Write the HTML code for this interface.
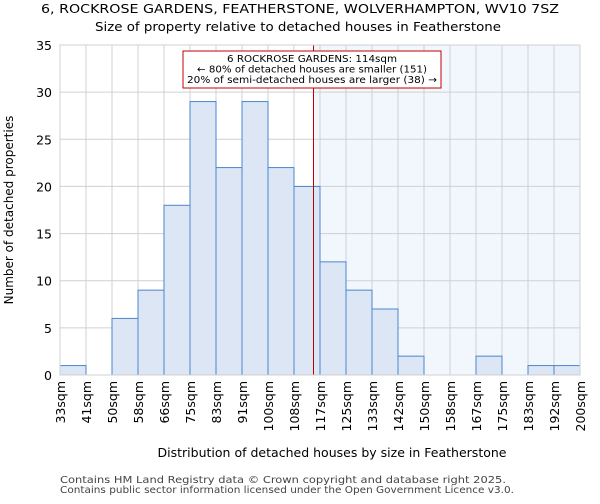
<!DOCTYPE html>
<html><head><meta charset="utf-8"><style>
body{margin:0;background:#fff;font-family:"DejaVu Sans","Liberation Sans",sans-serif;}
</style></head><body>
<svg width="600" height="500" xmlns="http://www.w3.org/2000/svg" font-family="DejaVu Sans, Liberation Sans, sans-serif">
<text x="300" y="13" text-anchor="middle" font-size="12.5" textLength="518" lengthAdjust="spacingAndGlyphs">6, ROCKROSE GARDENS, FEATHERSTONE, WOLVERHAMPTON, WV10 7SZ</text>
<text x="298" y="31" text-anchor="middle" font-size="12.5" textLength="406" lengthAdjust="spacingAndGlyphs">Size of property relative to detached houses in Featherstone</text>
<g id="plot"></g>
<text x="332" y="457" text-anchor="middle" font-size="12.5" textLength="349" lengthAdjust="spacingAndGlyphs">Distribution of detached houses by size in Featherstone</text>
<text transform="translate(13,210) rotate(-90)" text-anchor="middle" font-size="12">Number of detached properties</text>
<text x="60" y="483" font-size="10" fill="#444" textLength="446" lengthAdjust="spacingAndGlyphs">Contains HM Land Registry data © Crown copyright and database right 2025.</text>
<text x="60" y="493" font-size="10" fill="#444" textLength="454" lengthAdjust="spacingAndGlyphs">Contains public sector information licensed under the Open Government Licence v3.0.</text>
</svg>
<script>
const binLabels=["33sqm","41sqm","50sqm","58sqm","66sqm","75sqm","83sqm","91sqm","100sqm","108sqm","117sqm","125sqm","133sqm","142sqm","150sqm","158sqm","167sqm","175sqm","183sqm","192sqm","200sqm"];
const counts=[1,0,6,9,18,29,22,29,22,20,12,9,7,2,0,0,2,0,1,1];
const yTicks=[0,5,10,15,20,25,30,35];
const propertyBinPos=9.75;
const NS="http://www.w3.org/2000/svg";
const g=document.getElementById('plot');
const L=60,R=580,T=45,B=375,yMax=35;
const bw=(R-L)/counts.length;
const x=i=>L+i*bw;
const y=v=>B-(v/yMax)*(B-T);
function mk(t,a){const e=document.createElementNS(NS,t);for(const k in a)e.setAttribute(k,a[k]);g.appendChild(e);return e;}
const lx=x(propertyBinPos);
let e=mk('rect',{x:lx,y:T,width:R-lx,height:B-T,fill:'#f2f6fd'});


yTicks.forEach(v=>{
 let l=mk('line',{x1:L,x2:R,y1:y(v),y2:y(v),stroke:'#d0d0d0'});
 
 
 let t=mk('text',{x:L-8,y:y(v)+5,'text-anchor':'end','font-size':12.5});
 t.textContent=v;
 
 
});
binLabels.forEach((s,i)=>{
 let l=mk('line',{x1:x(i),x2:x(i),y1:T,y2:B,stroke:'#d0d0d0'});
 
 
 let t=mk('text',{transform:`translate(${x(i)+5},${B+6}) rotate(-90)`,'text-anchor':'end','font-size':12.5});
 t.textContent=s;
 
 
});
counts.forEach((v,i)=>{
 if(v<=0)return;
 let r=mk('rect',{x:x(i),y:y(v),width:bw,height:B-y(v),fill:'#dce6f5',stroke:'#4a86cf','stroke-width':1});
 
 
});
e=mk('line',{x1:lx,x2:lx,y1:T,y2:B,stroke:'#c00000','stroke-width':1});


e=mk('rect',{x:183,y:51,width:258,height:37,fill:'#fff',stroke:'#c00000'});


const ann=["6 ROCKROSE GARDENS: 114sqm","← 80% of detached houses are smaller (151)","20% of semi-detached houses are larger (38) →"];
const annW=[170,230,250];
ann.forEach((s,i)=>{
 let t=mk('text',{x:312,y:62+i*10.5,'text-anchor':'middle','font-size':10,textLength:annW[i],lengthAdjust:'spacingAndGlyphs'});
 t.textContent=s;
 
 
});
e=mk('rect',{x:L,y:T,width:R-L,height:B-T,fill:'none',stroke:'#d0d0d0'});


</script>
</body></html>
